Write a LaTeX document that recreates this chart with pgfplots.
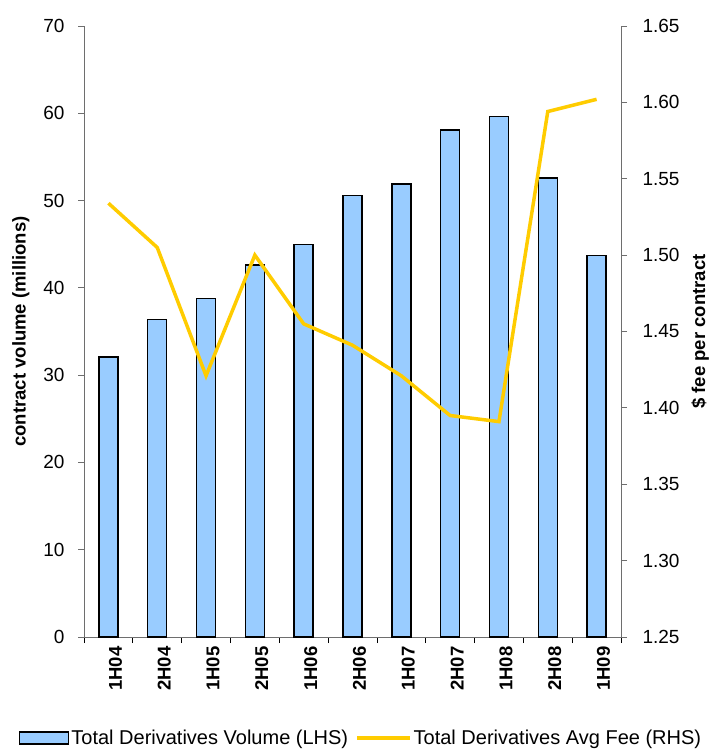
\documentclass[border=0pt]{standalone}
\usepackage{pgfplots}
\pgfplotsset{compat=1.18}
\usepackage{fontspec}
\setmainfont{Liberation Sans}
\definecolor{barblue}{RGB}{153,204,255}
\definecolor{feeyellow}{RGB}{255,204,0}
\definecolor{axisgray}{RGB}{110,110,110}
\pgfplotstableread{
x vol
0 32.1
1 36.4
2 38.8
3 42.6
4 45.0
5 50.6
6 51.9
7 58.1
8 59.6
9 52.6
10 43.7
}\voltable
\pgfplotstableread{
x fee
0 1.534
1 1.505
2 1.421
3 1.500
4 1.455
5 1.441
6 1.421
7 1.395
8 1.391
9 1.594
10 1.602
}\feetable
\newcommand{\tickfont}{\fontsize{19bp}{22bp}\selectfont}
\newcommand{\legfont}{\fontsize{20bp}{23bp}\selectfont}
\newcommand{\labfont}{\fontsize{18.5bp}{22bp}\selectfont\bfseries}
\pgfplotsset{
  barlegend/.style={legend image code/.code={\draw[fill=barblue, draw=black, line width=1.4bp] (0bp,-6bp) rectangle (49bp,6bp);}},
  linelegend/.style={legend image code/.code={\draw[feeyellow, line width=3.5bp] (0bp,0bp) -- (53bp,0bp);}},
}
\begin{document}
\begin{tikzpicture}
\begin{axis}[
  name=main,
  scale only axis,
  width=537bp, height=611bp,
  xmin=-0.5, xmax=10.5,
  ymin=0, ymax=70,
  ytick={0,10,...,70},
  axis y line*=left,
  axis x line*=bottom,
  axis line style={axisgray, line width=0.8bp},
  every axis x line/.append style={black},
  tick align=outside,
  tick style={axisgray, line width=0.8bp},
  major tick length=6bp,
  minor tick length=6bp,
  xtick={0,...,10},
  xticklabels={1H04,2H04,1H05,2H05,1H06,2H06,1H07,2H07,1H08,2H08,1H09},
  minor xtick={-0.5,0.5,...,10.5},
  major x tick style={draw=none},
  minor x tick style={black, line width=0.8bp},
  xticklabel style={rotate=90, anchor=east, font=\labfont, yshift=-7bp},
  yticklabel style={font=\tickfont, xshift=-10bp, /pgf/number format/assume math mode=true},
  ylabel={contract volume (millions)},
  ylabel style={font=\labfont},
  ylabel shift=7bp,
  ybar, bar width=19bp,
  legend columns=2,
  legend style={draw=none, fill=none, font=\legfont, at={(0.516,-0.165)}, anchor=center,
    /tikz/every even column/.append style={column sep=5bp}},
  legend cell align=left,
]
\addplot[fill=barblue, draw=black, line width=1.4bp, barlegend]
  table[x=x, y=vol]{\voltable};
\addlegendentry{Total Derivatives Volume (LHS)}
\addlegendimage{linelegend}
\addlegendentry{Total Derivatives Avg Fee (RHS)}
\end{axis}
\begin{axis}[
  scale only axis,
  width=537bp, height=611bp,
  xmin=-0.5, xmax=10.5,
  ymin=1.25, ymax=1.65,
  ytick={1.25,1.30,...,1.65},
  axis y line*=right,
  axis x line=none,
  axis line style={axisgray, line width=0.8bp},
  tick align=outside,
  tick style={axisgray, line width=0.8bp},
  major tick length=6bp,
  yticklabel style={font=\tickfont, xshift=12bp, /pgf/number format/.cd, fixed, fixed zerofill, precision=2, assume math mode=true},
  ylabel={\$ fee per contract},
  ylabel style={font=\labfont},
  ylabel shift=5bp,
]
\addplot[feeyellow, line width=3.5bp, mark=none] table[x=x, y=fee]{\feetable};
\end{axis}
\pgfresetboundingbox
\path[use as bounding box] ([xshift=-84bp,yshift=-113bp]main.south west) rectangle ([xshift=91bp,yshift=26bp]main.north east);
\end{tikzpicture}
\end{document}
